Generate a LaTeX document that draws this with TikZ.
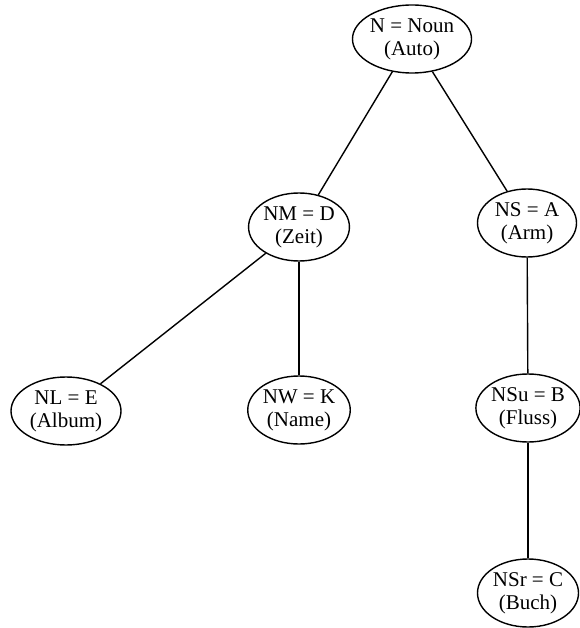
\documentclass[tikz,border=0pt]{standalone}
\usepackage{fontspec}
\setmainfont{Liberation Serif}
\usepackage{tikz}
\usetikzlibrary{shapes.geometric}

\begin{document}
\begin{tikzpicture}[
    x=1pt, y=-1pt,
    wordbox/.style={ellipse, draw, line width=1.4pt, inner sep=0pt, minimum width=99pt, minimum height=68pt, align=center, font=\fontsize{21}{23}\selectfont},
    edge/.style={line width=1.4pt}
]
    \useasboundingbox (0,0) rectangle (579,628);

    % root
    \node[wordbox, minimum width=117pt] (noun) at (412, 39) {N = Noun\\(Auto)};

    % second level
    \node[wordbox] (nm) at (299, 227) {NM = D\\(Zeit)};
    \node[wordbox] (ns) at (527, 223) {NS = A\\(Arm)};

    % third level
    \node[wordbox, minimum width=110pt] (nl) at (66, 411) {NL = E\\(Album)};
    \node[wordbox] (nw) at (299, 410) {NW = K\\(Name)};
    \node[wordbox, minimum width=101pt] (nsu) at (528, 408) {NSu = B\\(Fluss)};

    % fourth level
    \node[wordbox, minimum width=101pt] (nsr) at (528, 593) {NSr = C\\(Buch)};

    \draw[edge] (noun) -- (nm);
    \draw[edge] (noun) -- (ns);
    \draw[edge] (nm) -- (nl);
    \draw[edge] (nm) -- (nw);
    \draw[edge] (ns) -- (nsu);
    \draw[edge] (nsu) -- (nsr);
\end{tikzpicture}
\end{document}
